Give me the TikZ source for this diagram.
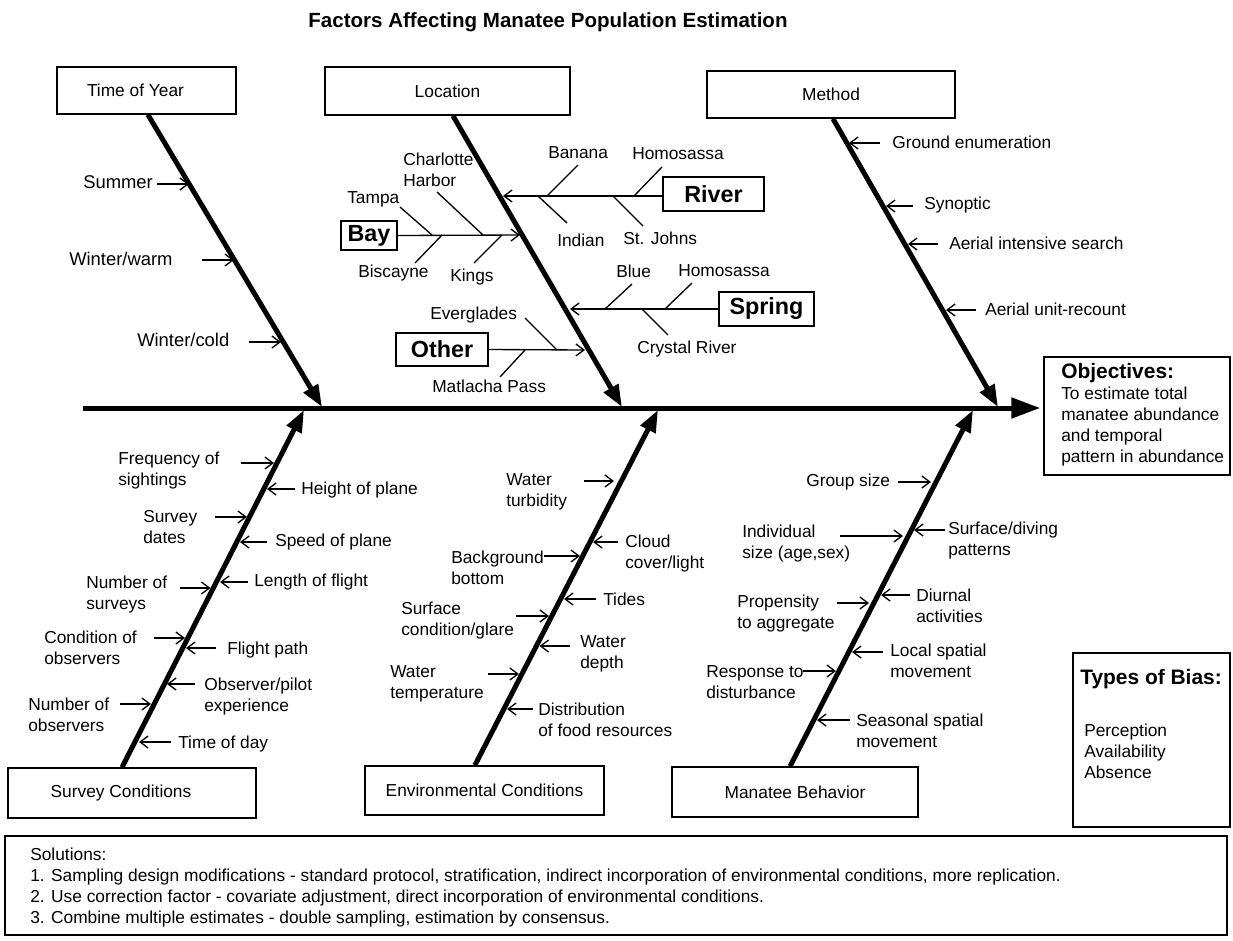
\documentclass[tikz,border=0pt]{standalone}
\usepackage{fontspec}
\setmainfont{Liberation Sans}
\usetikzlibrary{arrows.meta,calc}
\begin{document}
\begin{tikzpicture}[x=0.75pt,y=-0.75pt,
  box/.style={draw,line width=1.1pt,inner sep=0pt,font=\fontsize{13}{15.75}\selectfont},
  bbox/.style={draw,line width=1.1pt,inner sep=0pt,font=\bfseries\fontsize{17.5}{21}\selectfont},
  lbl/.style={inner sep=0pt,align=left,anchor=west,font=\fontsize{13}{15.75}\selectfont},
  biglbl/.style={lbl,font=\fontsize{13.8}{16.5}\selectfont},
  head/.style={inner sep=0pt,anchor=west,font=\bfseries\fontsize{15.7}{19}\selectfont},
  bone/.style={line width=3.75pt,-{Triangle[length=16.5pt,width=12pt]}},
  spineline/.style={line width=3.75pt,-{Triangle[length=21.75pt,width=15pt]}},
  arr/.style={line width=1pt,-{Straight Barb[length=6pt,width=9pt]}},
  twig/.style={line width=1pt}]
\useasboundingbox (0,0) rectangle (1233,940);
\fill[white] (0,0) rectangle (1233,940);

% title
\node[inner sep=0pt,font=\bfseries\fontsize{15.4}{18}\selectfont] (title) at (548,22) {Factors Affecting Manatee Population Estimation};

% category boxes
\node[box,minimum width=134.25pt,minimum height=35.25pt] (toy) at (146.5,90.5) {Time of Year\kern16.5pt};
\node[box,minimum width=183.75pt,minimum height=36pt] (loc) at (447.5,91) {Location};
\node[box,minimum width=186pt,minimum height=35.25pt] (met) at (831,94.5) {Method};
\node[box,minimum width=186pt,minimum height=37.5pt] (sur) at (132,793) {Survey Conditions\kern16.5pt};
\node[box,minimum width=179.25pt,minimum height=36.75pt] (env) at (484.5,790.5) {Environmental Conditions};
\node[box,minimum width=184.5pt,minimum height=37.5pt] (man) at (795,792) {Manatee Behavior};

% objectives and bias boxes
\node[box,minimum width=139.5pt,minimum height=88.5pt] (obj) at (1137,416) {};
\node[head] (objh) at (1061,373) {Objectives:};
\node[lbl] (objt) at (1061,427) {To estimate total\\manatee abundance\\and temporal\\pattern in abundance};
\node[box,minimum width=117.75pt,minimum height=130.5pt] (bias) at (1151.5,740) {};
\node[head] (biash) at (1080,679) {Types of Bias:};
\node[lbl] (biast) at (1084,751.5) {Perception\\Availability\\Absence};

% solutions
\node[box,minimum width=916.5pt,minimum height=74.25pt] (sol) at (616,885.5) {};
\node[lbl] (solt) at (30,887.5) {Solutions:\\1. Sampling design modifications - standard protocol, stratification, indirect incorporation of environmental conditions, more replication.\\2. Use correction factor - covariate adjustment, direct incorporation of environmental conditions.\\3. Combine multiple estimates - double sampling, estimation by consensus.};

% spine
\coordinate (sp0) at (83,408);
\draw[spineline,shorten >=2.25pt] (sp0) -- (obj.west |- sp0);

% bones
\coordinate (toyE) at (322,407);
\coordinate (locE) at (622,407);
\coordinate (metE) at (998,407);
\coordinate (surE) at (304,410);
\coordinate (envE) at (658,410);
\coordinate (manE) at (973,410);
\draw[bone] ($(toy.south west)!0.508!(toy.south east)$) -- (toyE);
\draw[bone] ($(loc.south west)!0.522!(loc.south east)$) -- (locE);
\draw[bone] ($(met.south west)!0.508!(met.south east)$) -- (metE);
\draw[bone] ($(sur.north west)!0.46!(sur.north east)$) -- (surE);
\draw[bone] ($(env.north west)!0.46!(env.north east)$) -- (envE);
\draw[bone] ($(man.north west)!0.48!(man.north east)$) -- (manE);

% Time of Year
\node[biglbl] (summer) at (83,182) {Summer};
\draw[arr] (157,184) -- (189,184);
\node[biglbl] (wwarm) at (69,259) {Winter/warm};
\draw[arr] (202,260) -- (234,260);
\node[biglbl] (wcold) at (137,340) {Winter/cold};
\draw[arr] (249,342) -- (281,342);

% Location: Bay
\node[bbox,minimum width=42pt,minimum height=21.75pt] (bay) at (369,235.5) {Bay};
\coordinate (bayT) at (520,235);
\draw[arr] (bay.east) -- (bayT);
\node[lbl] (tampa) at (347,199) {Tampa};
\draw[twig] (400,207) -- (432,235);
\node[lbl] (charl) at (403,169.5) {Charlotte\\Harbor};
\draw[twig] (437,192) -- (483,235);
\node[lbl] (bisc) at (358,273) {Biscayne};
\draw[twig] (415,263) -- (442,235);
\node[lbl] (kings) at (450,277) {Kings};
\draw[twig] (474,263) -- (502,235);

% Location: River
\node[bbox,minimum width=75.75pt,minimum height=25.5pt] (river) at (713.5,194) {River};
\coordinate (riverT) at (503,196);
\draw[arr] (river.west |- riverT) -- (riverT);
\node[lbl] (banana) at (548,153) {Banana};
\draw[twig] (578,165) -- (547,196);
\node[lbl] (homr) at (632,154) {Homosassa};
\draw[twig] (662,167) -- (634,196);
\node[lbl] (indian) at (557,240) {Indian};
\draw[twig] (538,196) -- (567,223);
\node[lbl] (stj) at (623,238) {St. Johns};
\draw[twig] (613,196) -- (643,226);

% Location: Spring
\node[bbox,minimum width=71.25pt,minimum height=25.5pt] (spring) at (766.5,309) {Spring};
\coordinate (springT) at (570,309);
\draw[arr] (spring.west) -- (springT);
\node[lbl] (blue) at (616,271) {Blue};
\draw[twig] (632,284) -- (605,309);
\node[lbl] (homs) at (678,271) {Homosassa};
\draw[twig] (692,283) -- (665,309);
\node[lbl] (cryst) at (637,349) {Crystal River};
\draw[twig] (642,309) -- (668,335);

% Location: Other
\node[bbox,minimum width=69pt,minimum height=24.75pt] (other) at (442,349.5) {Other};
\coordinate (otherT) at (585,350);
\draw[arr] (other.east) -- (otherT);
\node[lbl] (everg) at (430,315) {Everglades};
\draw[twig] (525,318) -- (557,350);
\node[lbl] (matl) at (432,386) {Matlacha Pass};
\draw[twig] (500,377) -- (525,350);

% Method
\node[lbl] (ground) at (892,142) {Ground enumeration};
\draw[arr] (880,143) -- (849,143);
\node[lbl] (synop) at (924,205) {Synoptic};
\draw[arr] (913,206) -- (886,206);
\node[lbl] (aeri) at (949,243) {Aerial intensive search};
\draw[arr] (938,244) -- (908,244);
\node[lbl] (aeru) at (985,309) {Aerial unit-recount};
\draw[arr] (976,310) -- (946,310);

% Survey Conditions
\node[lbl] (freq) at (118,471) {Frequency of\\sightings};
\draw[arr] (241,463) -- (274,463);
\node[lbl] (height) at (301,490) {Height of plane};
\draw[arr] (295,489) -- (267,489);
\node[lbl] (sdates) at (143,527) {Survey\\dates};
\draw[arr] (215,517) -- (247,517);
\node[lbl] (speed) at (275,542) {Speed of plane};
\draw[arr] (267,542) -- (240,542);
\node[lbl] (nsurv) at (86,594.5) {Number of\\surveys};
\draw[arr] (180,588) -- (210.5,588);
\node[lbl] (length) at (254,582) {Length of flight};
\draw[arr] (248,582) -- (220,582);
\node[lbl] (cond) at (44,647.5) {Condition of\\observers};
\draw[arr] (154,638) -- (185,638);
\node[lbl] (fpath) at (227,650) {Flight path};
\draw[arr] (216,648) -- (186,648);
\node[lbl] (obsp) at (204,697) {Observer/pilot\\experience};
\draw[arr] (195,684) -- (167,684);
\node[lbl] (nobs) at (28,715) {Number of\\observers};
\draw[arr] (120,704) -- (151,704);
\node[lbl] (tday) at (178,744) {Time of day};
\draw[arr] (171,742) -- (139,742);

% Environmental Conditions
\node[lbl] (wturb) at (506,491.5) {Water\\turbidity};
\draw[arr] (584,481) -- (614,481);
\node[lbl] (cloud) at (625,553.5) {Cloud\\cover/light};
\draw[arr] (618,542) -- (593,542);
\node[lbl] (backg) at (451,567.5) {Background\\bottom};
\draw[arr] (544,556) -- (580,556);
\node[lbl] (tides) at (603,599) {Tides};
\draw[arr] (596,599) -- (564,599);
\node[lbl] (surf) at (401,621) {Surface\\condition/glare};
\draw[arr] (516,616) -- (549,616);
\node[lbl] (wdepth) at (580,653.5) {Water\\depth};
\draw[arr] (570,646) -- (539.5,646);
\node[lbl] (wtemp) at (390,684) {Water\\temperature};
\draw[arr] (488,674) -- (519,674);
\node[lbl] (distr) at (538,719.5) {Distribution\\of food resources};
\draw[arr] (533,709) -- (507,709);

% Manatee Behavior
\node[lbl] (group) at (806,482) {Group size};
\draw[arr] (898,482) -- (931,482);
\node[lbl] (indiv) at (742,544) {Individual\\size (age,sex)};
\draw[arr] (840,536) -- (903,536);
\node[lbl] (surfd) at (948,541) {Surface/diving\\patterns};
\draw[arr] (945,530) -- (914,530);
\node[lbl] (prop) at (737,613.5) {Propensity\\to aggregate};
\draw[arr] (837,603) -- (869,603);
\node[lbl] (diur) at (916,606) {Diurnal\\activities};
\draw[arr] (910,595) -- (881,595);
\node[lbl] (local) at (890,660.5) {Local spatial\\movement};
\draw[arr] (883,652) -- (852,652);
\node[lbl] (resp) at (706,682) {Response to\\disturbance};
\draw[arr] (803,671) -- (836,671);
\node[lbl] (seas) at (856,730.5) {Seasonal spatial\\movement};
\draw[arr] (850,720) -- (817,720);
\end{tikzpicture}
\end{document}
